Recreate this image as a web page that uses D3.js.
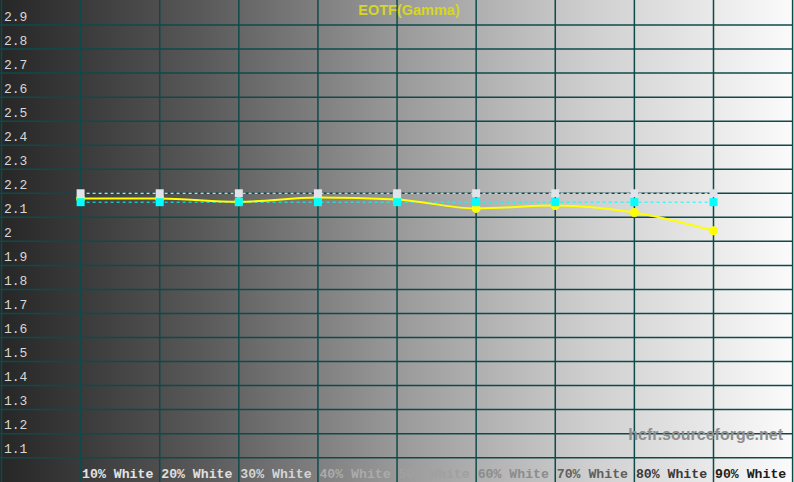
<!DOCTYPE html>
<html>
<head>
<meta charset="utf-8">
<script src="https://d3js.org/d3.v7.min.js"></script>
<style>
    html, body { margin: 0; padding: 0; background: #fff; overflow: hidden; }
    svg { display: block; }
</style>
</head>
<body>

<svg width="794" height="482"></svg>

<script>

    // data
    const categories = ['10% White', '20% White', '30% White', '40% White', '50% White',
                        '60% White', '70% White', '80% White', '90% White'];
    const levels = [10, 20, 30, 40, 50, 60, 70, 80, 90];
    const measured = [2.178, 2.178, 2.165, 2.182, 2.174, 2.137, 2.149, 2.120, 2.044];
    const reference = [2.163, 2.163, 2.163, 2.163, 2.163, 2.163, 2.163, 2.163, 2.163];
    const target = [2.2, 2.2, 2.2, 2.2, 2.2, 2.2, 2.2, 2.2, 2.2];
    const yTicks = [2.9, 2.8, 2.7, 2.6, 2.5, 2.4, 2.3, 2.2, 2.1, 2,
                    1.9, 1.8, 1.7, 1.6, 1.5, 1.4, 1.3, 1.2, 1.1];
    const xGrid = [0, 10, 20, 30, 40, 50, 60, 70, 80, 90, 100];

    const svg = d3.select('svg');
    const width = +svg.attr('width');
    const height = +svg.attr('height');

    const x = d3.scaleLinear().domain([0, 100]).range([1.5, 792.6]);
    const y = d3.scaleLinear().domain([1, 3]).range([481.7, 1]);

    const gridColor = '#0e4a4a';
    const mono = '"Liberation Mono", "Courier New", monospace';
    const sans = '"Liberation Sans", Arial, sans-serif';

    // background grey ramp
    const defs = svg.append('defs');
    const grad = defs.append('linearGradient')
        .attr('id', 'bg')
        .attr('x1', '0%').attr('x2', '100%')
        .attr('y1', '0%').attr('y2', '0%');
    [[0, '#262626'], [0.25, '#585858'], [0.5, '#999999'], [0.75, '#d0d0d0'], [1, '#fbfbfb']]
        .forEach(s => grad.append('stop').attr('offset', s[0]).attr('stop-color', s[1]));

    svg.append('rect')
        .attr('width', width).attr('height', height)
        .attr('fill', 'url(#bg)');

    // grid
    svg.append('g').selectAll('line')
        .data(yTicks)
        .join('line')
        .attr('x1', 0).attr('x2', x(100))
        .attr('y1', d => y(d)).attr('y2', d => y(d))
        .attr('stroke', gridColor)
        .attr('stroke-width', 1.5);

    svg.append('g').selectAll('line')
        .data(xGrid)
        .join('line')
        .attr('x1', d => x(d)).attr('x2', d => x(d))
        .attr('y1', 0).attr('y2', height)
        .attr('stroke', gridColor)
        .attr('stroke-width', 1.5);

    // y labels, sitting just above their grid line
    svg.append('g').selectAll('text')
        .data(yTicks)
        .join('text')
        .attr('x', 4)
        .attr('y', d => y(d) - 4.5)
        .attr('font-family', mono)
        .attr('font-size', 13)
        .attr('fill', '#d8d8d8')
        .text(d => String(d));

    // x labels, grey level changes across the ramp
    const labelColor = d3.scaleLinear()
        .domain([10, 20, 30, 40, 50, 60, 70, 80, 90])
        .range(['#e4e4e4', '#e0e0e0', '#d4d4d4', '#ababab', '#a0a0a0',
                '#8c8c8c', '#606060', '#3a3a3a', '#1c1c1c']);

    svg.append('g').selectAll('text')
        .data(levels)
        .join('text')
        .attr('x', d => x(d) + 1.5)
        .attr('y', 478)
        .attr('font-family', mono)
        .attr('font-size', 13.2)
        .attr('font-weight', 'bold')
        .attr('fill', d => labelColor(d))
        .text((d, i) => categories[i]);

    // title
    svg.append('text')
        .attr('x', 409)
        .attr('y', 15)
        .attr('text-anchor', 'middle')
        .attr('font-family', sans)
        .attr('font-size', 14.5)
        .attr('font-weight', 'bold')
        .attr('fill', '#d6d626')
        .text('EOTF(Gamma)');

    // watermark
    svg.append('text')
        .attr('x', 783)
        .attr('y', 440)
        .attr('text-anchor', 'end')
        .attr('font-family', sans)
        .attr('font-size', 16)
        .attr('font-weight', 'bold')
        .attr('fill', '#8e8e8e')
        .text('hcfr.sourceforge.net');

    // dashed target + reference lines
    const straight = d3.line().x((d, i) => x(levels[i])).y(d => y(d));

    svg.append('path')
        .attr('d', straight(target))
        .attr('fill', 'none')
        .attr('stroke', '#ffffff')
        .attr('stroke-width', 1)
        .attr('stroke-dasharray', '3,3');

    svg.append('path')
        .attr('d', straight(reference))
        .attr('fill', 'none')
        .attr('stroke', '#00ffff')
        .attr('stroke-width', 1)
        .attr('stroke-dasharray', '3,3');

    // measured gamma
    const smooth = d3.line()
        .x((d, i) => x(levels[i]))
        .y(d => y(d))
        .curve(d3.curveMonotoneX);

    svg.append('path')
        .attr('d', smooth(measured))
        .attr('fill', 'none')
        .attr('stroke', '#ffff00')
        .attr('stroke-width', 2);

    svg.append('g').selectAll('circle')
        .data(measured)
        .join('circle')
        .attr('cx', (d, i) => x(levels[i]))
        .attr('cy', d => y(d))
        .attr('r', 4.5)
        .attr('fill', '#ffff00');

    // markers: target (white) then reference (cyan) on top
    const sq = 8;
    svg.append('g').selectAll('rect')
        .data(target)
        .join('rect')
        .attr('x', (d, i) => x(levels[i]) - sq / 2)
        .attr('y', d => y(d) - sq / 2)
        .attr('width', sq).attr('height', sq)
        .attr('fill', '#e2e2ea');

    svg.append('g').selectAll('rect')
        .data(reference)
        .join('rect')
        .attr('x', (d, i) => x(levels[i]) - sq / 2)
        .attr('y', d => y(d) - sq / 2)
        .attr('width', sq).attr('height', sq)
        .attr('fill', '#00ffff');

</script>

</body>
</html>
